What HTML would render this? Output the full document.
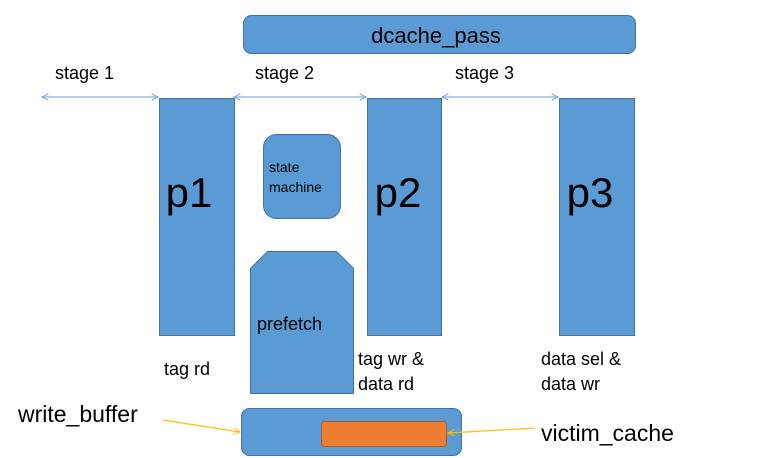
<!DOCTYPE html>
<html><head><meta charset="utf-8"><style>
html,body{margin:0;padding:0;background:#fff;width:765px;height:458px;overflow:hidden}
svg text{font-family:"Liberation Sans",sans-serif;fill:#000}
</style></head><body>
<svg width="765" height="458" viewBox="0 0 765 458" xmlns="http://www.w3.org/2000/svg">
<defs>
<marker id="ab" viewBox="0 0 10 10" refX="9" refY="5" markerWidth="8" markerHeight="8" orient="auto-start-reverse" markerUnits="userSpaceOnUse"><path d="M1,1 L9,5 L1,9" fill="none" stroke="#6f9fd6" stroke-width="1.2"/></marker>
<marker id="ay" viewBox="0 0 10 10" refX="9" refY="5" markerWidth="8" markerHeight="8" orient="auto" markerUnits="userSpaceOnUse"><path d="M1,1 L9,5 L1,9" fill="none" stroke="#ffc000" stroke-width="1.2"/></marker>
</defs>
<g>
<rect x="243.5" y="15.5" width="392" height="38" rx="8" fill="#5b9bd5" stroke="#41719c"/>
<text x="436" y="43" font-size="22" text-anchor="middle">dcache_pass</text></g>
<text x="55" y="79" font-size="18">stage 1</text>
<text x="255" y="79" font-size="18">stage 2</text>
<text x="455" y="79" font-size="18">stage 3</text>
<line x1="42" y1="97" x2="158" y2="97" stroke="#8fb4e0" stroke-width="1.2" marker-start="url(#ab)" marker-end="url(#ab)"/>
<line x1="234" y1="97" x2="366" y2="97" stroke="#8fb4e0" stroke-width="1.2" marker-start="url(#ab)" marker-end="url(#ab)"/>
<line x1="442" y1="97" x2="558" y2="97" stroke="#8fb4e0" stroke-width="1.2" marker-start="url(#ab)" marker-end="url(#ab)"/>
<g><rect x="159.5" y="98.5" width="75" height="237" fill="#5b9bd5" stroke="#41719c"/><text x="189" y="207" font-size="42" text-anchor="middle">p1</text></g>
<g><rect x="367.5" y="98.5" width="74" height="237" fill="#5b9bd5" stroke="#41719c"/><text x="398" y="207" font-size="42" text-anchor="middle">p2</text></g>
<g><rect x="559.5" y="98.5" width="75" height="237" fill="#5b9bd5" stroke="#41719c"/><text x="590" y="207" font-size="42" text-anchor="middle">p3</text></g>
<g><rect x="263.5" y="134.5" width="77" height="84" rx="13" fill="#5b9bd5" stroke="#41719c"/>
<text x="269" y="172" font-size="14">state</text><text x="269" y="192" font-size="14">machine</text></g>
<g><path d="M267.5,251.5 L336.5,251.5 L353.5,268.5 L353.5,393.5 L250.5,393.5 L250.5,268.5 Z" fill="#5b9bd5" stroke="#41719c"/>
<text x="257" y="330" font-size="18">prefetch</text></g>
<text x="164" y="375" font-size="18">tag rd</text>
<text x="358" y="365" font-size="18">tag wr &amp;</text>
<text x="358" y="390" font-size="18">data rd</text>
<text x="541" y="365" font-size="18">data sel &amp;</text>
<text x="541" y="390" font-size="18">data wr</text>
<rect x="241.5" y="408.5" width="220" height="47" rx="8" fill="#5b9bd5" stroke="#41719c"/>
<rect x="321.5" y="421.5" width="125" height="25" rx="3" fill="#ed7d31" stroke="#ae5a21"/>
<text x="18" y="422" font-size="23">write_buffer</text>
<text x="541" y="441" font-size="23">victim_cache</text>
<line x1="163" y1="420" x2="240" y2="432" stroke="#ffc000" stroke-width="1.2" marker-end="url(#ay)"/>
<line x1="535" y1="428" x2="448" y2="433" stroke="#ffc000" stroke-width="1.2" marker-end="url(#ay)"/>
</svg>
</body></html>
